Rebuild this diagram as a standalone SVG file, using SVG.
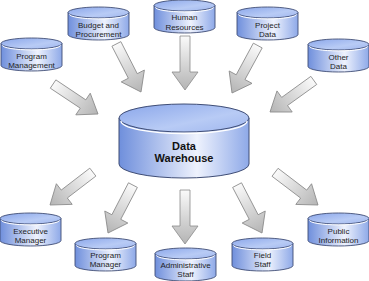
<svg xmlns="http://www.w3.org/2000/svg" xmlns:xlink="http://www.w3.org/1999/xlink" width="369" height="281" viewBox="0 0 369 281">
<defs>
<linearGradient id="bodyG" x1="0" y1="0" x2="1" y2="0">
<stop offset="0" stop-color="#6f8fdc"/>
<stop offset="0.6" stop-color="#eef2fd"/>
<stop offset="1" stop-color="#8ea9e8"/>
</linearGradient>
<linearGradient id="topG" x1="0" y1="0" x2="1" y2="1">
<stop offset="0" stop-color="#8aa6ea"/>
<stop offset="0.6" stop-color="#b8cbf5"/>
<stop offset="1" stop-color="#9fb6ee"/>
</linearGradient>
<linearGradient id="arrG" x1="0" y1="0" x2="1" y2="0">
<stop offset="0" stop-color="#fafafa"/>
<stop offset="1" stop-color="#b4b4b4"/>
</linearGradient>
<g id="cyl">
<path d="M0,5.5 L0,27.5 A30.5,5.5 0 0 0 61,27.5 L61,5.5 Z" fill="url(#bodyG)" stroke="#3f4d75" stroke-width="0.9"/>
<ellipse cx="30.5" cy="5.5" rx="30.5" ry="5.5" fill="url(#topG)" stroke="#3f4d75" stroke-width="0.9"/>
<path d="M1.5,7.3 A29,4.6 0 0 0 59.5,7.3" fill="none" stroke="#ffffff" stroke-width="1"/>
</g>
<path id="arr" d="M-54,-5 L-18,-5 L-18,-13 L0,0 L-18,13 L-18,5 L-54,5 Z" fill="url(#arrG)" stroke="#8a8a8a" stroke-width="0.8"/>
</defs>
<style>
text{font-family:"Liberation Sans",Arial,sans-serif;font-size:8px;fill:#1e1e1e;text-anchor:middle}
.big{font-size:11px;font-weight:bold;fill:#111}
</style>
<rect width="369" height="281" fill="#ffffff"/>
<g id="connectors">
<use href="#arr" transform="translate(98,114) rotate(33.7)"/>
<use href="#arr" transform="translate(141,92) rotate(62.9)"/>
<use href="#arr" transform="translate(185,90) rotate(90)"/>
<use href="#arr" transform="translate(232,93) rotate(118.5)"/>
<use href="#arr" transform="translate(270,112) rotate(144.2)"/>
<use href="#arr" transform="translate(50,205) rotate(142.5)"/>
<use href="#arr" transform="translate(108,233) rotate(117.5)"/>
<use href="#arr" transform="translate(185,244) rotate(90)"/>
<use href="#arr" transform="translate(262,233) rotate(62.5)"/>
<use href="#arr" transform="translate(318,205) rotate(37.3)"/>
</g>
<g id="data-warehouse">
<path d="M119,118 L119,164 A65,14 0 0 0 249,164 L249,118 Z" fill="url(#bodyG)" stroke="#3f4d75" stroke-width="1"/>
<ellipse cx="184" cy="118" rx="65" ry="14" fill="url(#topG)" stroke="#3f4d75" stroke-width="1"/>
<path d="M121,121 A63,12.5 0 0 0 247,121" fill="none" stroke="#ffffff" stroke-width="1.3"/>
<text class="big" x="184" y="150">Data</text>
<text class="big" x="184" y="162">Warehouse</text>
</g>
<g id="program-management" transform="translate(1,38)"><use href="#cyl"/><text x="30.5" y="20.5">Program</text><text x="30.5" y="30">Management</text></g>
<g id="budget-procurement" transform="translate(68,7)"><use href="#cyl"/><text x="30.5" y="20.5">Budget and</text><text x="30.5" y="30">Procurement</text></g>
<g id="human-resources" transform="translate(154,0)"><use href="#cyl"/><text x="30.5" y="20">Human</text><text x="30.5" y="29.5">Resources</text></g>
<g id="project-data" transform="translate(237,7)"><use href="#cyl"/><text x="30.5" y="20.5">Project</text><text x="30.5" y="30">Data</text></g>
<g id="other-data" transform="translate(308,39)"><use href="#cyl"/><text x="30.5" y="20.5">Other</text><text x="30.5" y="30">Data</text></g>
<g id="executive-manager" transform="translate(0,213)"><use href="#cyl"/><text x="30.5" y="20.5">Executive</text><text x="30.5" y="30">Manager</text></g>
<g id="program-manager" transform="translate(75,238)"><use href="#cyl"/><text x="30.5" y="20">Program</text><text x="30.5" y="29">Manager</text></g>
<g id="administrative-staff" transform="translate(155,248)"><use href="#cyl"/><text x="30.5" y="20">Administrative</text><text x="30.5" y="29">Staff</text></g>
<g id="field-staff" transform="translate(232,238)"><use href="#cyl"/><text x="30.5" y="20">Field</text><text x="30.5" y="29">Staff</text></g>
<g id="public-information" transform="translate(308,213)"><use href="#cyl"/><text x="30.5" y="20.5">Public</text><text x="30.5" y="30">Information</text></g>
</svg>
